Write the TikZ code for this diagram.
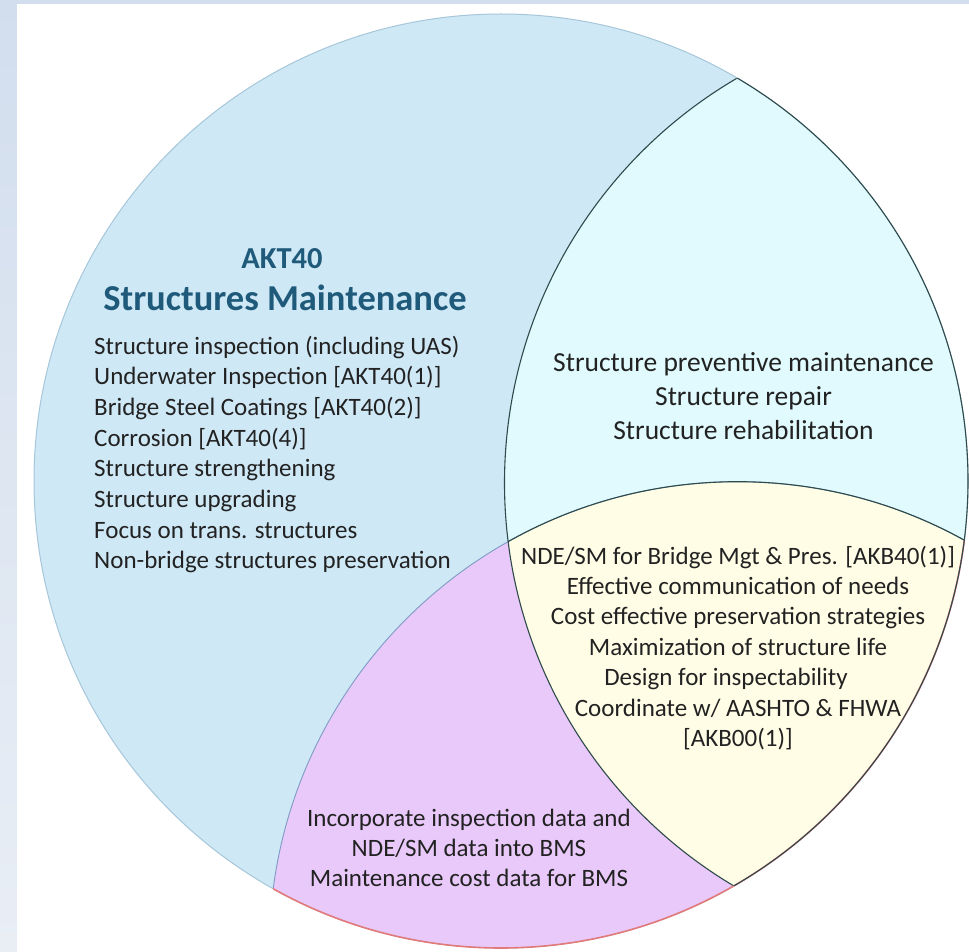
\documentclass[tikz,border=0pt]{standalone}
\usepackage{fontspec}
\setmainfont{Carlito}
\definecolor{bandtop}{HTML}{D2DEEE}
\definecolor{bandbot}{HTML}{E9EEF5}
\definecolor{blueR}{HTML}{CFE8F6}
\definecolor{cyanR}{HTML}{E0FAFE}
\definecolor{yellowR}{HTML}{FFFDE6}
\definecolor{pinkR}{HTML}{E8C9F9}
\definecolor{outA}{HTML}{A6C6DA}
\definecolor{darkL}{HTML}{2E4A4A}
\definecolor{bluL}{HTML}{7D9CC4}
\definecolor{redL}{HTML}{E27A7A}
\definecolor{titleC}{HTML}{1F5A7A}
\definecolor{txt}{HTML}{222222}
\tikzset{
  body/.style={font=\fontsize{25}{30}\selectfont, text=txt, inner sep=0pt},
  bodybig/.style={font=\fontsize{27.5}{33}\selectfont, text=txt, inner sep=0pt},
  titleA/.style={font=\fontsize{30.5}{36}\selectfont\bfseries, text=titleC, inner sep=0pt},
  titleB/.style={font=\fontsize{36.5}{42}\selectfont\bfseries, text=titleC, inner sep=0pt},
  darkline/.style={draw=darkL, line width=1.1pt},
}
\begin{document}
\begin{tikzpicture}[x=1pt,y=-1pt]
\useasboundingbox (0,0) rectangle (969,952);
\shade[top color=bandtop, bottom color=bandbot] (0,0) rectangle (969,952);
\fill[white] (17,4) rectangle (969,952);
% regions
\fill[blueR] (501,481) circle (467pt);
\begin{scope}
  \clip (501,481) circle (467pt);
  \fill[cyanR] (973,483) circle (468.5pt);
  \fill[pinkR] (737.5,950) circle (468.3pt);
  \clip (973,483) circle (468.5pt);
  \fill[yellowR] (737.5,950) circle (468.3pt);
\end{scope}
% boundary lines
\begin{scope}
  \clip (501,481) circle (467pt);
  \draw[bluL, line width=0.9pt] (737.5,950) circle (468.3pt);
  \draw[darkline] (973,483) circle (468.5pt);
  \clip (973,483) circle (468.5pt);
  \draw[darkline] (737.5,950) circle (468.3pt);
\end{scope}
\draw[outA, line width=1pt] (501,481) circle (467pt);
\begin{scope}
  \clip (737.5,950) circle (468.3pt);
  \draw[redL, line width=1.6pt] (501,481) circle (467pt);
\end{scope}
\begin{scope}
  \clip (973,483) circle (468.5pt);
  \draw[darkline] (501,481) circle (467pt);
\end{scope}
% left block
\node[titleA, anchor=base] (t1) at (282,268) {AKT40};
\node[titleB, anchor=base] (t2) at (285,310) {Structures Maintenance};
\foreach \t [count=\i] in {Structure inspection (including UAS),
  {Underwater Inspection [AKT40(1)]},
  {Bridge Steel Coatings [AKT40(2)]},
  {Corrosion [AKT40(4)]},
  Structure strengthening,
  Structure upgrading,
  Focus on trans. structures,
  Non-bridge structures preservation}
  \node[body, anchor=base west] (left\i) at (94,{354+30.7*(\i-1)}) {\t};
% cyan block
\foreach \t [count=\i] in {Structure preventive maintenance, Structure repair, Structure rehabilitation}
  \node[bodybig, anchor=base] (cy\i) at (743.5,{371+34*(\i-1)}) {\t};
% yellow block
\foreach \t [count=\i] in {{NDE/SM for Bridge Mgt \& Pres. [AKB40(1)]},
  Effective communication of needs,
  Cost effective preservation strategies,
  Maximization of structure life,
  Design for inspectability\kern 24pt,
  {Coordinate w/ AASHTO \& FHWA},
  {[AKB00(1)]}}
  \node[body, anchor=base] (ye\i) at (738,{564+30.4*(\i-1)}) {\t};
% pink block
\foreach \t [count=\i] in {Incorporate inspection data and, NDE/SM data into BMS, Maintenance cost data for BMS}
  \node[body, anchor=base] (pk\i) at (469,{826+30*(\i-1)}) {\t};
\end{tikzpicture}
\end{document}
